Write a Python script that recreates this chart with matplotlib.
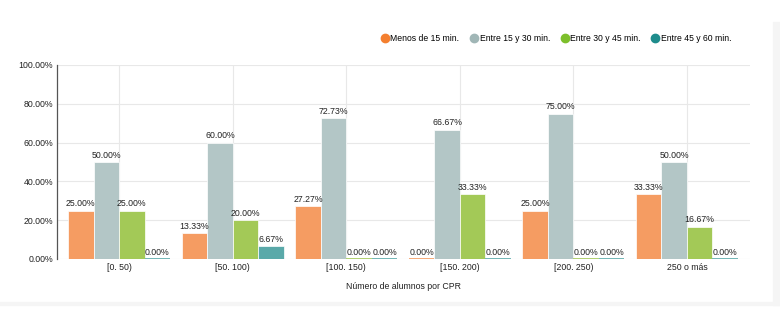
import matplotlib
matplotlib.use("Agg")
import matplotlib.pyplot as plt
from matplotlib.lines import Line2D
from matplotlib.patches import Rectangle
import numpy as np

plt.rcParams['font.family'] = ['Liberation Sans', 'DejaVu Sans']

categories = ["[0. 50)", "[50. 100)", "[100. 150)", "[150. 200)", "[200. 250)", "250 o más"]
series_names = ["Menos de 15 min.", "Entre 15 y 30 min.", "Entre 30 y 45 min.", "Entre 45 y 60 min."]
menos_15 = [25.00, 13.33, 27.27, 0.00, 25.00, 33.33]
entre_15_30 = [50.00, 60.00, 72.73, 66.67, 75.00, 50.00]
entre_30_45 = [25.00, 20.00, 0.00, 33.33, 0.00, 16.67]
entre_45_60 = [0.00, 6.67, 0.00, 0.00, 0.00, 0.00]
yticks = [0, 20, 40, 60, 80, 100]

series = [menos_15, entre_15_30, entre_30_45, entre_45_60]
bar_colors = ["#f59c62", "#b3c6c6", "#a3c957", "#5aa9a9"]
marker_colors = ["#f47f2f", "#a0b6b6", "#7dbf2b", "#1e8c8c"]

fig = plt.figure(figsize=(7.8, 3.28), dpi=100)
fig.patch.set_facecolor("white")
# light card border on the right and bottom
fig.patches.append(Rectangle((773 / 780, 23 / 328), 7 / 780, 283 / 328,
                             transform=fig.transFigure, color="#f5f5f5", zorder=0))
fig.patches.append(Rectangle((0, 23 / 328), 1, 3 / 328,
                             transform=fig.transFigure, color="#f5f5f5", zorder=0))

ax = fig.add_axes([57 / 780, 1 - 259 / 328, 693 / 780, 194 / 328])

x = np.arange(len(categories))
w = 0.2245
fs = 6.3
for i, (vals, col) in enumerate(zip(series, bar_colors)):
    pos = x + (i - 1.5) * w
    for xp, v in zip(pos, vals):
        if v > 0:
            ax.bar(xp, v, width=w, color=col, edgecolor="white", linewidth=0.5, zorder=3)
        else:
            ax.plot([xp - w / 2, xp + w / 2], [0.25, 0.25], color=col, lw=1.2, zorder=3,
                    solid_capstyle="butt")
        ax.text(xp, v + 1.2, f"{v:.2f}%", ha="center", va="bottom", fontsize=fs,
                color="#222222", zorder=4)

ax.set_xlim(-0.546, len(categories) - 1 + 0.555)
ax.set_ylim(0, 100)
ax.set_yticks(yticks)
ax.set_yticklabels([f"{t:.2f}%" for t in yticks], fontsize=fs, color="#222222")
ax.set_xticks(x)
ax.set_xticklabels(categories, fontsize=fs, color="#222222")
ax.tick_params(axis="both", length=0, pad=3)
ax.set_xlabel("Número de alumnos por CPR", fontsize=fs, color="#222222", labelpad=7)

ax.grid(True, color="#e8e8e8", linewidth=0.8, zorder=0)
ax.set_axisbelow(True)
for s in ["top", "right", "bottom"]:
    ax.spines[s].set_visible(False)
ax.spines["left"].set_color("#555555")
ax.spines["left"].set_linewidth(0.9)

handles = [Line2D([0], [0], marker="o", linestyle="", markersize=6,
                  markerfacecolor=c, markeredgecolor=c) for c in marker_colors]
fig.legend(handles, series_names, loc="center right", bbox_to_anchor=(735 / 780, 1 - 38.5 / 328),
           ncol=4, frameon=False, fontsize=6.2, handletextpad=0.15, columnspacing=1.2,
           handlelength=1.0, borderaxespad=0)

fig.savefig("out.png", dpi=100)
